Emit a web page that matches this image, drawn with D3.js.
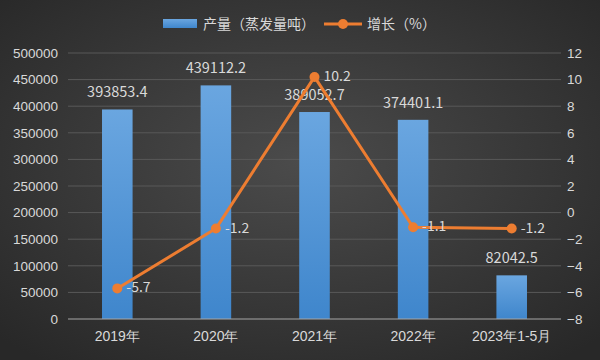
<!DOCTYPE html>
<html>
<head>
<meta charset="utf-8">
<script src="https://cdn.jsdelivr.net/npm/d3@7"></script>
<style>
body { margin: 0; background: #333; }
svg { display: block; font-family: "Microsoft YaHei", "Noto Sans CJK SC", "DejaVu Sans", sans-serif; }
</style>
</head>
<body>
<svg id="chart" width="600" height="360"></svg>
<script>
var categories = ["2019年", "2020年", "2021年", "2022年", "2023年1-5月"];
var output = [393853.4, 439112.2, 389052.7, 374401.1, 82042.5];
var growth = [-5.7, -1.2, 10.2, -1.1, -1.2];
var leftTicks = [0, 50000, 100000, 150000, 200000, 250000, 300000, 350000, 400000, 450000, 500000];
var rightTicks = [-8, -6, -4, -2, 0, 2, 4, 6, 8, 10, 12];

var W = 600, H = 360;
var plotLeft = 68, plotRight = 561, plotTop = 53, plotBottom = 319;
var textColor = "#d9d9d9";

var svg = d3.select("#chart");

// background
var defs = svg.append("defs");
var bg = defs.append("radialGradient").attr("id", "bg")
    .attr("cx", "50%").attr("cy", "45%").attr("r", "70%");
bg.append("stop").attr("offset", "0%").attr("stop-color", "#4b4b4b");
bg.append("stop").attr("offset", "100%").attr("stop-color", "#282828");
var barGrad = defs.append("linearGradient").attr("id", "bar")
    .attr("x1", 0).attr("y1", 0).attr("x2", 0).attr("y2", 1);
barGrad.append("stop").attr("offset", "0%").attr("stop-color", "#6aa6e0");
barGrad.append("stop").attr("offset", "100%").attr("stop-color", "#3f86cc");

svg.append("rect").attr("width", W).attr("height", H).attr("fill", "url(#bg)");

var x = d3.scaleBand().domain(categories).range([plotLeft, plotRight]).paddingInner(0.69).paddingOuter(0.345);
var y = d3.scaleLinear().domain([0, 500000]).range([plotBottom, plotTop]);
var y2 = d3.scaleLinear().domain([-8, 12]).range([plotBottom, plotTop]);

// gridlines
svg.append("g").selectAll("line")
    .data(leftTicks.slice(1))
    .enter().append("line")
    .attr("x1", plotLeft).attr("x2", plotRight)
    .attr("y1", function(d) { return y(d); })
    .attr("y2", function(d) { return y(d); })
    .attr("stroke", "#595959").attr("stroke-width", 1);

// left axis
var yAxis = svg.append("g")
    .attr("transform", "translate(" + (plotLeft - 10) + ",0)")
    .call(d3.axisLeft(y).tickValues(leftTicks).tickFormat(d3.format("d")).tickSize(0).tickPadding(0));
yAxis.select(".domain").remove();
yAxis.selectAll("text").attr("fill", textColor).attr("font-size", 13.5);

// right axis
var yAxis2 = svg.append("g")
    .attr("transform", "translate(" + (plotRight + 6) + ",0)")
    .call(d3.axisRight(y2).tickValues(rightTicks).tickFormat(d3.format("d")).tickSize(0).tickPadding(0));
yAxis2.select(".domain").remove();
yAxis2.selectAll("text").attr("fill", textColor).attr("font-size", 13.5);

// bars
svg.append("g").selectAll("rect")
    .data(output)
    .enter().append("rect")
    .attr("x", function(d, i) { return x(categories[i]); })
    .attr("y", function(d) { return y(d); })
    .attr("width", x.bandwidth())
    .attr("height", function(d) { return plotBottom - y(d); })
    .attr("fill", "url(#bar)");

// x axis line
svg.append("line")
    .attr("x1", plotLeft).attr("x2", plotRight)
    .attr("y1", plotBottom).attr("y2", plotBottom)
    .attr("stroke", "#a6a6a6").attr("stroke-width", 1.2);

var xAxis = svg.append("g")
    .attr("transform", "translate(0," + plotBottom + ")")
    .call(d3.axisBottom(x).tickSize(0).tickPadding(12));
xAxis.select(".domain").remove();
xAxis.selectAll("text").attr("fill", textColor).attr("font-size", 14);

// bar labels
svg.append("g").selectAll("text")
    .data(output)
    .enter().append("text")
    .attr("x", function(d, i) { return x(categories[i]) + x.bandwidth() / 2; })
    .attr("y", function(d) { return y(d) - 12; })
    .attr("text-anchor", "middle")
    .attr("fill", textColor).attr("font-size", 14.5)
    .text(function(d) { return d.toFixed(1); });

// line
var cx = function(d, i) { return x(categories[i]) + x.bandwidth() / 2; };
var line = d3.line()
    .x(function(d, i) { return cx(d, i); })
    .y(function(d) { return y2(d); });
svg.append("path")
    .datum(growth)
    .attr("d", line)
    .attr("fill", "none")
    .attr("stroke", "#ed7d31").attr("stroke-width", 3)
    .attr("stroke-linejoin", "round");

svg.append("g").selectAll("circle")
    .data(growth)
    .enter().append("circle")
    .attr("cx", cx)
    .attr("cy", function(d) { return y2(d); })
    .attr("r", 5)
    .attr("fill", "#ed7d31");

svg.append("g").selectAll("text")
    .data(growth)
    .enter().append("text")
    .attr("x", function(d, i) { return cx(d, i) + 9; })
    .attr("y", function(d) { return y2(d) + 4; })
    .attr("fill", textColor).attr("font-size", 14)
    .text(function(d) { return d.toFixed(1); });

// legend
var legend = svg.append("g");
legend.append("rect")
    .attr("x", 163).attr("y", 19).attr("width", 34).attr("height", 9)
    .attr("fill", "url(#bar)");
legend.append("text")
    .attr("x", 203).attr("y", 29)
    .attr("fill", textColor).attr("font-size", 14)
    .text("产量（蒸发量吨）");
legend.append("line")
    .attr("x1", 324).attr("x2", 362).attr("y1", 24).attr("y2", 24)
    .attr("stroke", "#ed7d31").attr("stroke-width", 3);
legend.append("circle")
    .attr("cx", 343).attr("cy", 24).attr("r", 5).attr("fill", "#ed7d31");
legend.append("text")
    .attr("x", 367).attr("y", 29)
    .attr("fill", textColor).attr("font-size", 14)
    .text("增长（%）");
</script>
</body>
</html>
